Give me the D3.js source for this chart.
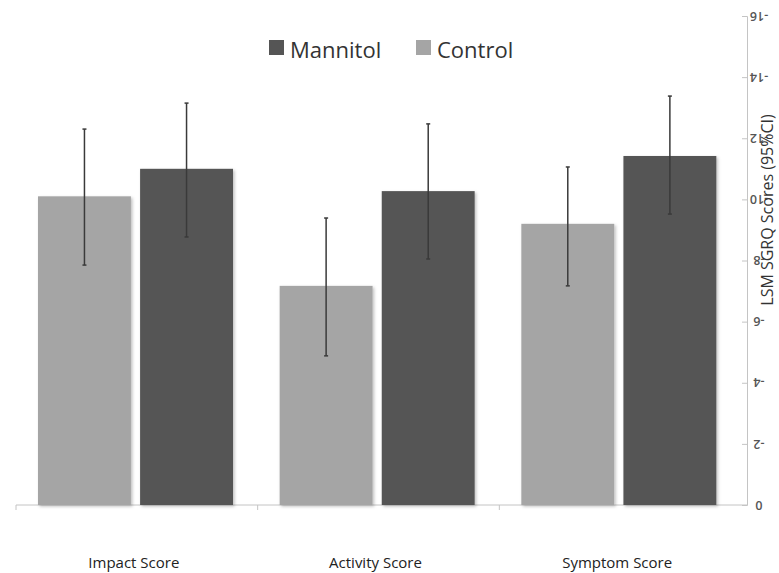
<!DOCTYPE html>
<html>
<head>
<meta charset="utf-8">
<script src="https://cdn.jsdelivr.net/npm/d3@7"></script>
<style>
  body { margin: 0; background: #fff; }
  svg { display: block; font-family: "Open Sans", Lato, sans-serif; }
</style>
</head>
<body>
<script>
//chart data
var categories = ["Impact Score", "Activity Score", "Symptom Score"];
var series = ["Control", "Mannitol"];
var legendOrder = ["Mannitol", "Control"];
var controlValues = [10.1, 7.17, 9.2];
var controlLow = [7.85, 4.88, 7.17];
var controlHigh = [12.3, 9.39, 11.06];
var mannitolValues = [11.0, 10.27, 11.42];
var mannitolLow = [8.77, 8.05, 9.52];
var mannitolHigh = [13.15, 12.47, 13.38];
var yTicks = [0, 2, 4, 6, 8, 10, 12, 14, 16];
var yTickLabels = ["0", "-2", "-4", "-6", "-8", "-10", "-12", "-14", "-16"];
var axisTitle = "LSM SGRQ Scores (95%CI)";

var colors = {"Mannitol": "#555555", "Control": "#a5a5a5"};

var width = 779, height = 573;

//scales
var x = d3.scaleBand().domain(categories).range([16, 741]);
var x1 = d3.scaleBand().domain(series).range([22, 217]).paddingInner(0.09);
var y = d3.scaleLinear().domain([0, 16]).range([505, 16]);

var svg = d3.select("body").append("svg")
    .attr("width", width)
    .attr("height", height);

//soft shadow like the office chart
var defs = svg.append("defs");
defs.append("filter")
    .attr("id", "shadow")
    .attr("x", "-10%").attr("y", "-10%")
    .attr("width", "120%").attr("height", "120%")
    .append("feDropShadow")
    .attr("dx", 1.5).attr("dy", 1.5)
    .attr("stdDeviation", 1.5)
    .attr("flood-color", "#000")
    .attr("flood-opacity", 0.25);

//build rows from the arrays
var rows = [];
categories.forEach(function(c, i) {
    rows.push({cat: c, s: "Control", v: controlValues[i], lo: controlLow[i], hi: controlHigh[i]});
    rows.push({cat: c, s: "Mannitol", v: mannitolValues[i], lo: mannitolLow[i], hi: mannitolHigh[i]});
});

//baseline
svg.append("line")
    .attr("x1", 16).attr("x2", 747)
    .attr("y1", y(0)).attr("y2", y(0))
    .attr("stroke", "#c4c4c4")
    .attr("stroke-width", 1);

//category separator ticks
svg.selectAll(".sep")
    .data(categories)
    .enter().append("line")
    .attr("x1", function(d) { return x(d); })
    .attr("x2", function(d) { return x(d); })
    .attr("y1", y(0)).attr("y2", y(0) + 5)
    .attr("stroke", "#c4c4c4");

//bars
svg.selectAll(".bar")
    .data(rows)
    .enter().append("rect")
    .attr("x", function(d) { return x(d.cat) + x1(d.s); })
    .attr("y", function(d) { return y(d.v); })
    .attr("width", x1.bandwidth())
    .attr("height", function(d) { return y(0) - y(d.v); })
    .attr("fill", function(d) { return colors[d.s]; })
    .attr("filter", "url(#shadow)");

//error bars
var err = svg.selectAll(".err")
    .data(rows)
    .enter().append("g")
    .attr("transform", function(d) {
        return "translate(" + (x(d.cat) + x1(d.s) + x1.bandwidth() / 2) + ",0)";
    });
err.append("line")
    .attr("y1", function(d) { return y(d.hi); })
    .attr("y2", function(d) { return y(d.lo); })
    .attr("stroke", "#3a3a3a")
    .attr("stroke-width", 1.5);
err.append("line")
    .attr("x1", -2).attr("x2", 2)
    .attr("y1", function(d) { return y(d.hi); })
    .attr("y2", function(d) { return y(d.hi); })
    .attr("stroke", "#3a3a3a")
    .attr("stroke-width", 1.5);
err.append("line")
    .attr("x1", -2).attr("x2", 2)
    .attr("y1", function(d) { return y(d.lo); })
    .attr("y2", function(d) { return y(d.lo); })
    .attr("stroke", "#3a3a3a")
    .attr("stroke-width", 1.5);

//right value axis
var axis = svg.append("g")
    .attr("transform", "translate(747,0)")
    .call(d3.axisLeft(y).tickValues(yTicks).tickSize(5).tickFormat(""));
axis.select(".domain").attr("stroke", "#c4c4c4");
axis.selectAll(".tick line").attr("stroke", "#c4c4c4");

//tick labels, drawn upside down
svg.selectAll(".ylab")
    .data(yTicks)
    .enter().append("text")
    .attr("transform", function(d) { return "translate(759," + y(d) + ") rotate(180)"; })
    .attr("text-anchor", "middle")
    .attr("dy", "0.35em")
    .attr("font-size", 12.5)
    .attr("font-weight", 600)
    .attr("fill", "#555")
    .text(function(d, i) { return yTickLabels[i]; });

//axis title along the right edge
svg.append("text")
    .attr("transform", "translate(773,210) rotate(-90)")
    .attr("text-anchor", "middle")
    .attr("font-size", 16)
    .attr("fill", "#333")
    .text(axisTitle);

//category labels
svg.selectAll(".cat")
    .data(categories)
    .enter().append("text")
    .attr("x", function(d) { return x(d) + x.bandwidth() / 2 - 3; })
    .attr("y", 568)
    .attr("text-anchor", "middle")
    .attr("font-size", 15)
    .attr("fill", "#222")
    .text(function(d) { return d; });

//legend
var legendX = [269, 416];
var legend = svg.selectAll(".leg")
    .data(legendOrder)
    .enter().append("g")
    .attr("transform", function(d, i) { return "translate(" + legendX[i] + ",0)"; });
legend.append("rect")
    .attr("x", 0).attr("y", 40)
    .attr("width", 15).attr("height", 15)
    .attr("fill", function(d) { return colors[d]; });
legend.append("text")
    .attr("x", 21).attr("y", 58)
    .attr("font-size", 22)
    .attr("fill", "#333")
    .text(function(d) { return d; });
</script>
</body>
</html>
